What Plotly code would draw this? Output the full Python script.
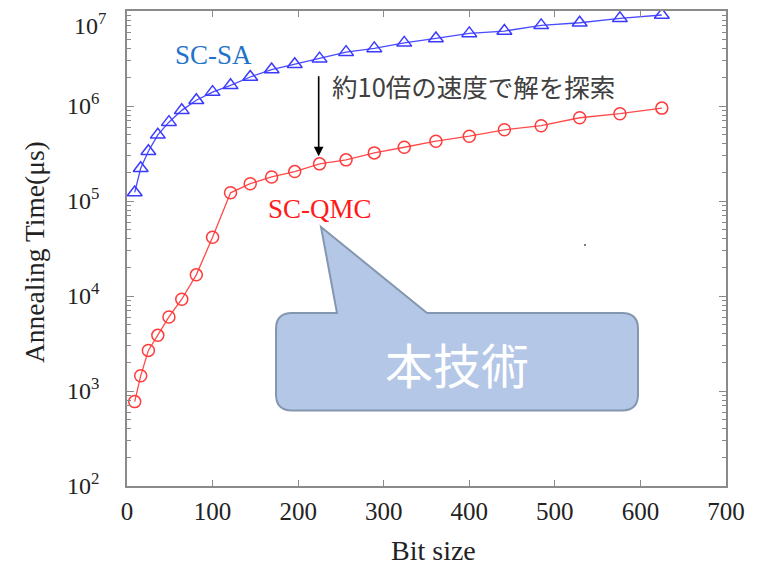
import plotly.graph_objects as go

# ---- data ----
bit_size = [9, 16, 25, 36, 49, 64, 81, 100, 121, 144, 169, 196, 225, 256,
            289, 324, 361, 400, 441, 484, 529, 576, 625]
sa_time = [1.23e5, 2.21e5, 3.34e5, 4.97e5, 6.76e5, 9.0e5, 1.15e6, 1.40e6,
           1.65e6, 2.02e6, 2.42e6, 2.75e6, 3.15e6, 3.69e6, 4.04e6, 4.62e6,
           5.14e6, 5.81e6, 6.15e6, 7.06e6, 7.52e6, 8.37e6, 9.08e6]
qmc_time = [773, 1445, 2675, 3853, 6020, 9250, 16700, 41500, 1.22e5, 1.52e5,
            1.79e5, 2.04e5, 2.46e5, 2.71e5, 3.21e5, 3.68e5, 4.26e5, 4.81e5,
            5.62e5, 6.2e5, 7.52e5, 8.3e5, 9.5e5]
x_ticks = [0, 100, 200, 300, 400, 500, 600, 700]
y_ticks = [1e2, 1e3, 1e4, 1e5, 1e6, 1e7]
y_tick_text = ["10<sup>2</sup>", "10<sup>3</sup>", "10<sup>4</sup>",
               "10<sup>5</sup>", "10<sup>6</sup>", "10<sup>7</sup>"]
series_names = ["SC-SA", "SC-QMC"]

# page has an 8px body margin; plot box in page pixels: 127..726 x 11..486
OFF = 8
W, H = 761 - OFF, 566 - OFF
PL, PT, PR, PB = 127, 11, 726, 486
L, T = PL - OFF, PT - OFF
R, B = W - (PR - OFF), H - (PB - OFF)
PW, PH = PR - PL, PB - PT


def px(xp):
    return (xp - PL) / PW


def py(yp):
    return (PB - yp) / PH


SERIF = "Liberation Serif, Times New Roman, serif"
CJK = "Noto Sans CJK JP, Noto Sans, sans-serif"
INK = "#222222"

fig = go.Figure()
fig.add_trace(go.Scatter(
    x=bit_size, y=sa_time, mode="lines+markers", name=series_names[0],
    line=dict(color="#4a4aff", width=1.3),
    marker=dict(symbol="triangle-up-open", size=13, color="#3a3aff",
                line=dict(width=1.5)),
))
fig.add_trace(go.Scatter(
    x=bit_size, y=qmc_time, mode="lines+markers", name=series_names[1],
    line=dict(color="#ff4a4a", width=1.3),
    marker=dict(symbol="circle-open", size=12, color="#ff3a3a",
                line=dict(width=1.5)),
))

# ---- callout bubble (rounded rect + tail) ----
l_, r_, t_, b_, rad = 276, 638, 313, 410.5, 16
tb1, tb2, apx, apy = 337, 427, 321, 227


def P(a, b):
    return f"{px(a):.5f},{py(b):.5f}"


path = (
    f"M {P(l_ + rad, t_)} "
    f"L {P(tb1, t_)} L {P(apx, apy)} L {P(tb2, t_)} "
    f"L {P(r_ - rad, t_)} Q {P(r_, t_)} {P(r_, t_ + rad)} "
    f"L {P(r_, b_ - rad)} Q {P(r_, b_)} {P(r_ - rad, b_)} "
    f"L {P(l_ + rad, b_)} Q {P(l_, b_)} {P(l_, b_ - rad)} "
    f"L {P(l_, t_ + rad)} Q {P(l_, t_)} {P(l_ + rad, t_)} Z"
)
fig.add_shape(type="path", path=path, xref="paper", yref="paper",
              fillcolor="#b4c7e7", line=dict(color="#8497b0", width=2),
              layer="above")
# tiny stray dot
fig.add_shape(type="circle", xref="paper", yref="paper",
              x0=px(584), x1=px(586), y0=py(246), y1=py(244),
              fillcolor="#555555", line=dict(width=0))

fig.add_annotation(x=px(457), y=py(363), xref="paper", yref="paper",
                   xanchor="center", yanchor="middle",
                   text="本技術", showarrow=False,
                   font=dict(family=CJK, size=48, color="white"))

# ---- axis titles (as annotations for exact placement) ----
fig.add_annotation(x=px(34), y=py(252), xref="paper", yref="paper",
                   xanchor="center", yanchor="middle", textangle=-90,
                   text="Annealing Time(μs)", showarrow=False,
                   font=dict(family=SERIF, size=27.5, color=INK))
fig.add_annotation(x=px(434), y=py(550), xref="paper", yref="paper",
                   xanchor="center", yanchor="middle",
                   text="Bit size", showarrow=False,
                   font=dict(family=SERIF, size=28, color=INK))
# top tick label placed just inside the page so it is not clipped
fig.add_annotation(x=px(108), y=py(7), xref="paper", yref="paper",
                   xanchor="right", yanchor="top",
                   text=y_tick_text[-1], showarrow=False,
                   font=dict(family=SERIF, size=24, color=INK))

# ---- labels ----
fig.add_annotation(x=101.5, y=6.535, xref="x", yref="y", text=series_names[0],
                   showarrow=False,
                   font=dict(family=SERIF, size=27, color="#1f74c8"))
fig.add_annotation(x=225, y=4.918, xref="x", yref="y", text=series_names[1],
                   showarrow=False,
                   font=dict(family=SERIF, size=27, color="#ff1a1a"))
fig.add_annotation(x=237, y=6.218, xref="x", yref="y", xanchor="left",
                   text="約10倍の速度で解を探索", showarrow=False,
                   font=dict(family=CJK, size=25.5, color="#404040"))
# arrow
fig.add_annotation(x=224, y=5.47, ax=224, ay=6.33, xref="x", yref="y",
                   axref="x", ayref="y", text="", showarrow=True,
                   arrowhead=2, arrowsize=1.2, arrowwidth=1.6,
                   arrowcolor="black")

fig.update_layout(
    width=W, height=H,
    margin=dict(l=L, r=R, t=T, b=B, autoexpand=False),
    paper_bgcolor="white", plot_bgcolor="white",
    showlegend=False,
    font=dict(family=SERIF, size=24, color=INK),
)
fig.update_xaxes(
    range=[0, 700], tickvals=x_ticks, ticktext=[str(v) for v in x_ticks],
    automargin=False,
    showgrid=False, zeroline=False,
    showline=True, linecolor="#8a8a8a", linewidth=1.5, mirror="allticks",
    ticks="inside", ticklen=6, tickcolor="#8a8a8a",
    tickfont=dict(family=SERIF, size=25, color=INK),
    ticklabelstandoff=2,
)
fig.update_yaxes(
    type="log", range=[2, 7], tickvals=y_ticks,
    ticktext=y_tick_text[:-1] + [""],
    automargin=False,
    showgrid=False, zeroline=False,
    showline=True, linecolor="#8a8a8a", linewidth=1.5, mirror="allticks",
    ticks="inside", ticklen=7, tickcolor="#8a8a8a",
    minor=dict(ticks="inside", ticklen=4, tickcolor="#8a8a8a", dtick="D1",
               showgrid=False),
    tickfont=dict(family=SERIF, size=24, color=INK),
    ticklabelstandoff=21,
)

fig.write_html("out.html")
